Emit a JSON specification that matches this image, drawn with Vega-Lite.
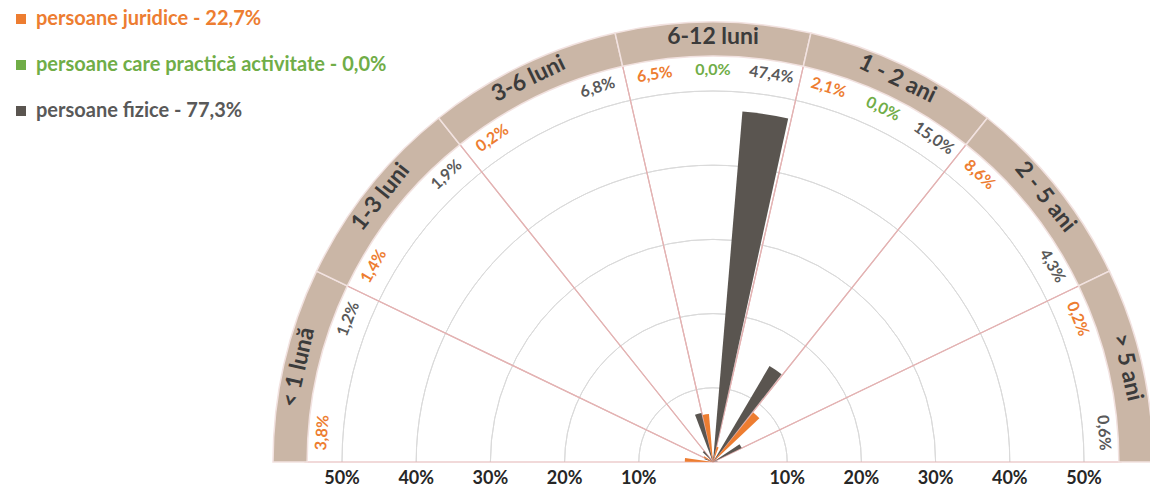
{
  "$schema": "https://vega.github.io/schema/vega-lite/v6.json",
  "width": 874,
  "height": 462,
  "autosize": {"type": "none"},
  "padding": {"left": 276, "top": 0, "right": 0, "bottom": 26},
  "background": "white",
  "config": {
    "view": {"stroke": null},
    "font": "Lato",
    "locale": {"number": {"decimal": ",", "thousands": ".", "grouping": [3], "currency": ["", " lei"]}}
  },
  "datasets": {
    "valori": [
      {"interval": "< 1 lună", "categorie": "persoane juridice - 22,7%", "pondere": 0.038},
      {"interval": "< 1 lună", "categorie": "persoane fizice - 77,3%", "pondere": 0.012},
      {"interval": "1-3 luni", "categorie": "persoane juridice - 22,7%", "pondere": 0.014},
      {"interval": "1-3 luni", "categorie": "persoane fizice - 77,3%", "pondere": 0.019},
      {"interval": "3-6 luni", "categorie": "persoane juridice - 22,7%", "pondere": 0.002},
      {"interval": "3-6 luni", "categorie": "persoane fizice - 77,3%", "pondere": 0.068},
      {"interval": "6-12 luni", "categorie": "persoane juridice - 22,7%", "pondere": 0.065},
      {"interval": "6-12 luni", "categorie": "persoane care practică activitate -  0,0%", "pondere": 0.0},
      {"interval": "6-12 luni", "categorie": "persoane fizice - 77,3%", "pondere": 0.474},
      {"interval": "1 - 2 ani", "categorie": "persoane juridice - 22,7%", "pondere": 0.021},
      {"interval": "1 - 2 ani", "categorie": "persoane care practică activitate -  0,0%", "pondere": 0.0},
      {"interval": "1 - 2 ani", "categorie": "persoane fizice - 77,3%", "pondere": 0.150},
      {"interval": "2 - 5 ani", "categorie": "persoane juridice - 22,7%", "pondere": 0.086},
      {"interval": "2 - 5 ani", "categorie": "persoane fizice - 77,3%", "pondere": 0.043},
      {"interval": "> 5 ani", "categorie": "persoane juridice - 22,7%", "pondere": 0.002},
      {"interval": "> 5 ani", "categorie": "persoane fizice - 77,3%", "pondere": 0.006}
    ],
    "intervale": [
      {"interval": "< 1 lună"},
      {"interval": "1-3 luni"},
      {"interval": "3-6 luni"},
      {"interval": "6-12 luni"},
      {"interval": "1 - 2 ani"},
      {"interval": "2 - 5 ani"},
      {"interval": "> 5 ani"}
    ],
    "grila": [{"p": 0.1}, {"p": 0.2}, {"p": 0.3}, {"p": 0.4}, {"p": 0.5}]
  },
  "resolve": {"scale": {"color": "independent"}, "legend": {"color": "independent"}},
  "layer": [
    {
      "data": {"name": "grila"},
      "mark": {"type": "arc", "filled": false, "stroke": "#dadada", "strokeWidth": 1, "y": "height"},
      "encoding": {
        "theta": {"datum": 0, "type": "quantitative", "scale": {"type": "linear", "domain": [0, 21], "range": [-1.5707963, 1.5707963], "zero": false, "nice": false}},
        "theta2": {"datum": 21},
        "radius": {"field": "p", "type": "quantitative", "scale": {"type": "linear", "domain": [0, 0.5], "range": [0, 371], "zero": true, "nice": false}},
        "radius2": {"field": "p"}
      }
    },
    {
      "data": {"name": "intervale"},
      "transform": [
        {"calculate": "indexof(['< 1 lună','1-3 luni','3-6 luni','6-12 luni','1 - 2 ani','2 - 5 ani','> 5 ani'], datum.interval)", "as": "k"},
        {"calculate": "datum.k * 3", "as": "a0"},
        {"calculate": "datum.k * 3 + 3", "as": "a1"}
      ],
      "mark": {"type": "arc", "filled": false, "stroke": "#e3b3b3", "strokeWidth": 1.2, "y": "height"},
      "encoding": {
        "theta": {"field": "a0", "type": "quantitative", "stack": null},
        "theta2": {"field": "a1"},
        "radius": {"datum": 0.55, "type": "quantitative"},
        "radius2": {"datum": 0}
      }
    },
    {
      "data": {"name": "valori"},
      "transform": [
        {"calculate": "indexof(['< 1 lună','1-3 luni','3-6 luni','6-12 luni','1 - 2 ani','2 - 5 ani','> 5 ani'], datum.interval)", "as": "k"},
        {"calculate": "indexof(['persoane juridice - 22,7%','persoane care practică activitate -  0,0%','persoane fizice - 77,3%'], datum.categorie)", "as": "j"},
        {"calculate": "datum.k * 3 + datum.j + 0.06", "as": "t0"},
        {"calculate": "datum.k * 3 + datum.j + 0.94", "as": "t1"}
      ],
      "mark": {"type": "arc", "y": "height"},
      "encoding": {
        "theta": {"field": "t0", "type": "quantitative", "stack": null},
        "theta2": {"field": "t1"},
        "radius": {"field": "pondere", "type": "quantitative"},
        "radius2": {"datum": 0},
        "color": {
          "field": "categorie",
          "type": "nominal",
          "scale": {"domain": ["persoane juridice - 22,7%", "persoane care practică activitate -  0,0%", "persoane fizice - 77,3%"], "range": ["#ed7d31", "#70ad47", "#5a5550"]},
          "legend": {
            "title": null,
            "orient": "none",
            "legendX": -265,
            "legendY": 9,
            "padding": 0,
            "symbolType": "square",
            "symbolSize": 100,
            "symbolStrokeWidth": 0,
            "labelFont": "Lato",
            "labelFontSize": 20,
            "labelFontWeight": "bold",
            "labelLimit": 450,
            "labelOffset": 5,
            "rowPadding": 26,
            "labelColor": {"expr": "indexof(datum.label, 'juridice') >= 0 ? '#ed7d31' : (indexof(datum.label, 'activitate') >= 0 ? '#70ad47' : '#595959')"}
          }
        }
      }
    },
    {
      "data": {"name": "intervale"},
      "transform": [
        {"calculate": "indexof(['< 1 lună','1-3 luni','3-6 luni','6-12 luni','1 - 2 ani','2 - 5 ani','> 5 ani'], datum.interval)", "as": "k"},
        {"calculate": "datum.k * 3", "as": "a0"},
        {"calculate": "datum.k * 3 + 3", "as": "a1"}
      ],
      "mark": {"type": "arc", "fill": "#cab6a6", "stroke": "#f2e2e0", "strokeWidth": 1.5, "y": "height"},
      "encoding": {
        "theta": {"field": "a0", "type": "quantitative", "stack": null},
        "theta2": {"field": "a1"},
        "radius": {"datum": 0.547, "type": "quantitative"},
        "radius2": {"datum": 0.593}
      }
    },
    {
      "data": {"name": "intervale"},
      "transform": [
        {"calculate": "indexof(['< 1 lună','1-3 luni','3-6 luni','6-12 luni','1 - 2 ani','2 - 5 ani','> 5 ani'], datum.interval)", "as": "k"},
        {"calculate": "datum.k * 3 + 1.5", "as": "am"}
      ],
      "mark": {"type": "text", "font": "Lato", "fontSize": 23, "fontWeight": "bold", "color": "#3b3b3b", "align": "center", "baseline": "middle", "y": "height"},
      "encoding": {
        "theta": {"field": "am", "type": "quantitative"},
        "radius": {"datum": 0.573, "type": "quantitative"},
        "angle": {"field": "am", "type": "quantitative", "scale": {"domain": [0, 21], "range": [-90, 90], "zero": false, "nice": false}},
        "text": {"field": "interval"}
      }
    },
    {
      "data": {"name": "valori"},
      "transform": [
        {"calculate": "indexof(['< 1 lună','1-3 luni','3-6 luni','6-12 luni','1 - 2 ani','2 - 5 ani','> 5 ani'], datum.interval)", "as": "k"},
        {"calculate": "indexof(['persoane juridice - 22,7%','persoane care practică activitate -  0,0%','persoane fizice - 77,3%'], datum.categorie)", "as": "j"},
        {"calculate": "datum.k * 3 + datum.j + 0.5", "as": "tm"}
      ],
      "mark": {"type": "text", "font": "Lato", "fontSize": 16, "fontWeight": "bold", "align": "center", "baseline": "middle", "y": "height"},
      "encoding": {
        "theta": {"field": "tm", "type": "quantitative"},
        "radius": {"datum": 0.528, "type": "quantitative"},
        "angle": {"field": "tm", "type": "quantitative"},
        "text": {"field": "pondere", "type": "quantitative", "format": ".1%"},
        "color": {
          "field": "categorie",
          "type": "nominal",
          "scale": {"domain": ["persoane juridice - 22,7%", "persoane care practică activitate -  0,0%", "persoane fizice - 77,3%"], "range": ["#ed7d31", "#70ad47", "#595959"]},
          "legend": null
        }
      }
    },
    {
      "data": {"name": "grila"},
      "mark": {"type": "text", "font": "Lato", "fontSize": 18, "fontWeight": "bold", "color": "#262626", "align": "center", "baseline": "middle", "dy": 17, "y": "height"},
      "encoding": {
        "theta": {"datum": 0, "type": "quantitative"},
        "radius": {"field": "p", "type": "quantitative"},
        "text": {"field": "p", "type": "quantitative", "format": ".0%"}
      }
    },
    {
      "data": {"name": "grila"},
      "mark": {"type": "text", "font": "Lato", "fontSize": 18, "fontWeight": "bold", "color": "#262626", "align": "center", "baseline": "middle", "dy": 17, "y": "height"},
      "encoding": {
        "theta": {"datum": 21, "type": "quantitative"},
        "radius": {"field": "p", "type": "quantitative"},
        "text": {"field": "p", "type": "quantitative", "format": ".0%"}
      }
    }
  ]
}
